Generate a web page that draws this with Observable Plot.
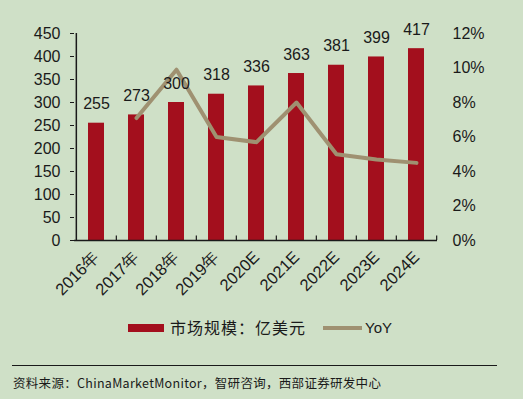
<!DOCTYPE html>
<html><head><meta charset="utf-8">
<script src="https://cdn.jsdelivr.net/npm/d3@7"></script>
<script src="https://cdn.jsdelivr.net/npm/@observablehq/plot@0.6"></script>
<style>
html,body{margin:0;padding:0;background:#cfe0c7;}
#wrap{position:relative;width:523px;height:399px;overflow:hidden;background:#cfe0c7;font-family:"Liberation Sans",Arial,sans-serif;color:#1a1a1a;}
#chart{position:absolute;left:0;top:0;}
.abs{position:absolute;white-space:nowrap;}
.cjk{font-family:"Noto Sans CJK SC","Liberation Sans",sans-serif;}
</style>
</head><body>
<div id="wrap">
  <div id="chart"></div>
  <div class="abs" style="left:128px;top:324px;width:36px;height:8px;background:#a30f1d;"></div>
  <div class="abs cjk" style="left:170px;top:316px;font-size:16px;letter-spacing:1px;line-height:22px;">市场规模：亿美元</div>
  <div class="abs" style="left:323px;top:326px;width:39px;height:4px;background:#9f9171;"></div>
  <div class="abs" style="left:365px;top:317px;font-size:15px;line-height:22px;">YoY</div>
  <div class="abs" style="left:12px;top:365px;width:485px;height:0;border-top:1.5px solid #1a1a1a;"></div>
  <div class="abs cjk" style="left:13px;top:374px;font-size:12.5px;line-height:18px;letter-spacing:0.3px;">资料来源：ChinaMarketMonitor，智研咨询，西部证券研发中心</div>
</div>
<script>
const years = ["2016年","2017年","2018年","2019年","2020E","2021E","2022E","2023E","2024E"];
const marketSize = [255,273,300,318,336,363,381,399,417];
const yoy = [null,7.1,9.9,6.0,5.7,8.0,5.0,4.7,4.5];
const leftTicks = [0,50,100,150,200,250,300,350,400,450];
const rightTicks = [0,2,4,6,8,10,12];
const rightTickLabels = ["0%","2%","4%","6%","8%","10%","12%"];

const W = 523, H = 310, mL = 74, mR = 86, mT = 33, mB = 70;
const yMax = 450, rMax = 12;
const toLeft = v => v * yMax / rMax;
const step = (W - mL - mR) / years.length;

const rows = years.map((y, i) => ({year: y, size: marketSize[i], yoy: yoy[i]}));
const lineRows = rows.filter(d => d.yoy != null);

const chart = Plot.plot({
  width: W, height: H,
  marginLeft: mL, marginRight: mR, marginTop: mT, marginBottom: mB,
  style: {background: "transparent", fontFamily: "Liberation Sans, Arial, sans-serif", fontSize: "16px", color: "#1a1a1a"},
  x: {domain: years, paddingInner: 0.6, paddingOuter: 0.3, label: null},
  y: {domain: [0, yMax], label: null},
  marks: [
    Plot.barY(rows, {x: "year", y: "size", fill: "#a30f1d"}),
    Plot.line(lineRows, {x: "year", y: d => toLeft(d.yoy), stroke: "#9f9171", strokeWidth: 4, strokeLinejoin: "round"}),
    Plot.text(rows, {x: "year", y: "size", text: d => String(d.size), dy: -19, fontSize: 16, fill: "#1a1a1a"}),
    Plot.ruleY([0], {stroke: "#1a1a1a", strokeWidth: 1.5}),
    Plot.ruleX([years[0]], {dx: -step / 2, y1: 0, y2: yMax, stroke: "#1a1a1a", strokeWidth: 1.5}),
    Plot.ruleX(years.slice(1), {dx: -step / 2, y1: 0, y2: 10, stroke: "#1a1a1a", strokeWidth: 1.2}),
    Plot.ruleX([years[years.length - 1]], {dx: step / 2, y1: 0, y2: 10, stroke: "#1a1a1a", strokeWidth: 1.2}),
    Plot.axisY(leftTicks, {anchor: "left", tickSize: 4, tickPadding: 10, fontSize: 16, tickFormat: d => String(d), label: null}),
    Plot.axisY(rightTicks.map(toLeft), {anchor: "right", tickSize: 0, tickPadding: 15, fontSize: 16,
      tickFormat: (d, i) => rightTickLabels[i], label: null}),
    Plot.axisX({tickRotate: -45, tickSize: 0, tickPadding: 14, fontSize: 16.5, label: null})
  ]
});
document.getElementById("chart").appendChild(chart);
</script>
</body></html>
